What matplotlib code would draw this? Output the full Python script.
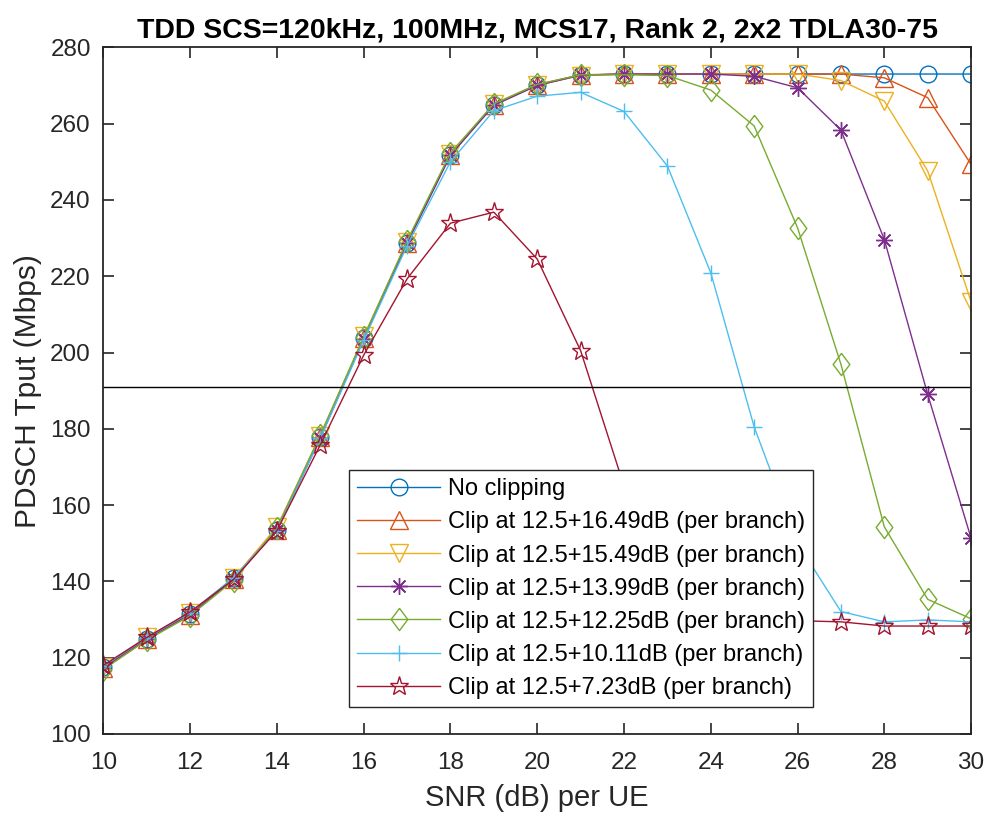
import matplotlib.pyplot as plt
import numpy as np

plt.rcParams['font.family'] = ['Liberation Sans', 'DejaVu Sans']

# SNR (dB) per UE
snr = np.arange(10, 31)

# throughput (Mbps) per clipping setting
no_clip = [117.5, 125.0, 131.5, 140.8, 153.5, 177.8, 203.7, 228.6, 251.8, 264.9, 270.1,
           272.7, 273.0, 273.0, 273.0, 273.0, 273.0, 273.0, 273.0, 273.0, 273.0]
clip_1649 = [117.3, 124.8, 131.3, 140.6, 153.6, 177.9, 203.9, 228.8, 251.9, 265.0, 270.2,
             272.8, 273.0, 273.0, 273.0, 273.0, 273.0, 273.0, 272.0, 266.8, 249.3]
clip_1549 = [117.6, 125.3, 131.8, 140.9, 154.3, 178.2, 204.2, 229.0, 252.0, 265.1, 270.1,
             272.6, 273.0, 273.0, 273.0, 273.0, 273.0, 271.3, 265.9, 247.6, 213.3]
clip_1399 = [117.4, 125.0, 131.4, 140.7, 153.5, 177.6, 203.6, 228.7, 251.7, 264.8, 270.0,
             272.7, 273.0, 273.0, 273.0, 272.4, 269.4, 258.3, 229.6, 189.0, 151.3]
clip_1225 = [116.9, 124.6, 131.0, 140.2, 154.0, 178.4, 204.0, 229.3, 252.3, 265.2, 270.3,
             272.8, 272.8, 272.6, 268.8, 259.4, 232.7, 196.9, 154.3, 135.3, 130.2]
clip_1011 = [117.8, 125.2, 131.8, 141.0, 153.3, 177.5, 203.2, 228.0, 250.0, 263.4, 267.2,
             268.2, 263.2, 248.9, 220.9, 180.5, 150.0, 132.1, 129.4, 129.9, 129.4]
clip_723 = [118.0, 125.3, 132.0, 140.5, 153.3, 175.8, 199.3, 219.3, 233.9, 236.8, 224.5,
            200.5, 165.0, 140.0, 132.0, 130.0, 129.7, 129.4, 128.3, 128.3, 128.3]

series = [no_clip, clip_1649, clip_1549, clip_1399, clip_1225, clip_1011, clip_723]
labels = ['No clipping',
          'Clip at 12.5+16.49dB (per branch)',
          'Clip at 12.5+15.49dB (per branch)',
          'Clip at 12.5+13.99dB (per branch)',
          'Clip at 12.5+12.25dB (per branch)',
          'Clip at 12.5+10.11dB (per branch)',
          'Clip at 12.5+7.23dB (per branch)']
colors = ['#0072BD', '#D95319', '#EDB120', '#7E2F8E', '#77AC30', '#4DBEEE', '#A2142F']
# matlab style diamond (taller than wide)
diamond = [(0, 1), (0.75, 0), (0, -1), (-0.75, 0), (0, 1)]
markers = ['o', '^', 'v', (8, 2, 0), diamond, '+', '*']
sizes = [12, 13, 13, 12, 16, 12, 14]

threshold = 191

fig = plt.figure(figsize=(9.88, 8.16), dpi=100)
ax = fig.add_axes([0.1046, 0.1005, 0.8783, 0.8415])

for y, lab, c, m, s in zip(series, labels, colors, markers, sizes):
    ax.plot(snr, y, color=c, marker=m, ms=s, mfc='none', mec=c, mew=1.0,
            lw=1.0, label=lab)

ax.axhline(threshold, color='black', lw=1.0)

ax.set_xlim(10, 30)
ax.set_ylim(100, 280)
ax.set_xticks(np.arange(10, 31, 2))
ax.set_yticks(np.arange(100, 281, 20))
ax.tick_params(direction='in', length=8, width=1.2, top=True, right=True,
               labelsize=17.5, colors='#262626')
ax.tick_params(axis='x', pad=13)
ax.tick_params(axis='y', pad=9)
for sp in ax.spines.values():
    sp.set_linewidth(1.3)
    sp.set_color('#262626')

ax.set_xlabel('SNR (dB) per UE', fontsize=21, color='#262626', labelpad=7)
ax.set_ylabel('PDSCH Tput (Mbps)', fontsize=21.5, color='#262626', labelpad=6)
ax.set_title('TDD SCS=120kHz, 100MHz, MCS17, Rank 2, 2x2 TDLA30-75',
             fontsize=20.5, fontweight='bold', pad=7)

leg = ax.legend(loc='lower left', bbox_to_anchor=(0.283, 0.039), fontsize=17,
                handlelength=3.5, handletextpad=0.35, labelspacing=0.47,
                borderpad=0.35, borderaxespad=0, fancybox=False, framealpha=1,
                edgecolor='#262626')
leg.get_frame().set_linewidth(1.0)

fig.savefig('out.png', dpi=100)
